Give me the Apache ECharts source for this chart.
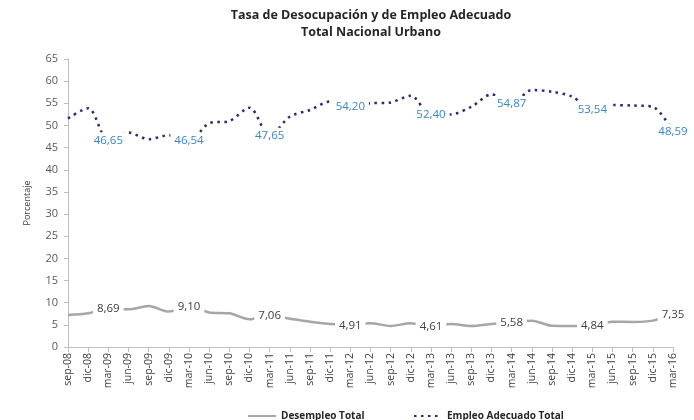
<!DOCTYPE html>
<html>
<head>
<meta charset="utf-8">
<script src="https://cdn.jsdelivr.net/npm/echarts@6/dist/echarts.min.js"></script>
<style>
  html, body { margin: 0; padding: 0; background: #fff; }
  #chart { width: 694px; height: 420px; }
</style>
</head>
<body>
<div id="chart"></div>
<script>
const categories = [
  'sep-08', 'dic-08', 'mar-09', 'jun-09', 'sep-09', 'dic-09', 'mar-10', 'jun-10',
  'sep-10', 'dic-10', 'mar-11', 'jun-11', 'sep-11', 'dic-11', 'mar-12', 'jun-12',
  'sep-12', 'dic-12', 'mar-13', 'jun-13', 'sep-13', 'dic-13', 'mar-14', 'jun-14',
  'sep-14', 'dic-14', 'mar-15', 'jun-15', 'sep-15', 'dic-15', 'mar-16'
]
const desempleo = [
  7.2, 7.6, 8.69, 8.5, 9.25, 8.0, 9.10, 7.8,
  7.6, 6.25, 7.06, 6.4, 5.7, 5.2, 4.91, 5.35,
  4.75, 5.35, 4.61, 5.2, 4.75, 5.2, 5.58, 5.95,
  4.8, 4.75, 4.84, 5.7, 5.65, 5.95, 7.35
]
const empleoAdecuado = [
  51.6, 53.9, 46.65, 48.4, 46.9, 47.8, 46.54, 50.5,
  51.0, 54.0, 47.65, 52.0, 53.5, 55.4, 54.20, 55.0,
  55.2, 56.7, 52.40, 52.5, 54.2, 57.0, 54.87, 58.0,
  57.6, 56.5, 53.54, 54.6, 54.5, 54.2, 48.59
]
const yTicks = { min: 0, max: 65, interval: 5 }

// only every 4th point (the march ones) carries a label
const showLabel = (i) => i % 4 === 2

const fmt = (v) => v.toFixed(2).replace('.', ',')

function withLabels(values, color) {
  return values.map((v, i) => ({
    value: v,
    label: {
      show: showLabel(i),
      position: 'inside',
      formatter: fmt(v),
      color: color,
      fontSize: 11.5,
      fontFamily: 'Open Sans',
      backgroundColor: '#fff',
      padding: [2, 4]
    }
  }))
}

const chart = echarts.init(document.getElementById('chart'))

const legendText = { fontSize: 10, fontWeight: 'bold', color: '#262626', fontFamily: 'Open Sans' }

const option = {
  animation: false,
  title: {
    text: 'Tasa de Desocupación y de Empleo Adecuado\nTotal Nacional Urbano',
    left: 366,
    textAlign: 'center',
    top: 2,
    textStyle: {
      fontSize: 12.5,
      fontWeight: 'bold',
      color: '#262626',
      fontFamily: 'Open Sans',
      lineHeight: 17
    }
  },
  legend: [
    {
      orient: 'horizontal',
      top: 406,
      left: 242,
      itemWidth: 28,
      itemHeight: 8,
      itemStyle: { opacity: 0 },
      textStyle: legendText,
      data: ['Desempleo Total']
    },
    {
      orient: 'horizontal',
      top: 406,
      left: 408,
      itemWidth: 28,
      itemHeight: 8,
      itemStyle: { opacity: 0 },
      textStyle: legendText,
      data: ['Empleo Adecuado Total']
    }
  ],
  grid: { left: 68, right: 21, top: 59, bottom: 73 },
  xAxis: {
    type: 'category',
    data: categories,
    boundaryGap: false,
    axisLine: { lineStyle: { color: '#bfbfbf' } },
    axisTick: { show: true, alignWithLabel: true, lineStyle: { color: '#bfbfbf' } },
    axisLabel: {
      rotate: 90,
      interval: 0,
      fontSize: 10.5,
      color: '#404040',
      fontFamily: 'Open Sans',
      margin: 6
    }
  },
  yAxis: {
    type: 'value',
    min: yTicks.min,
    max: yTicks.max,
    interval: yTicks.interval,
    name: 'Porcentaje',
    nameLocation: 'middle',
    nameGap: 36,
    nameTextStyle: { fontSize: 9, color: '#404040', fontFamily: 'Open Sans' },
    splitLine: { show: false },
    axisLine: { show: true, lineStyle: { color: '#bfbfbf' } },
    axisTick: { show: true, length: 4, lineStyle: { color: '#bfbfbf' } },
    axisLabel: { fontSize: 11, color: '#595959', fontFamily: 'Open Sans', margin: 10 }
  },
  series: [
    {
      name: 'Desempleo Total',
      type: 'line',
      smooth: 0.3,
      symbol: 'circle',
      symbolSize: 0,
      showSymbol: true,
      itemStyle: { color: '#a6a6a6' },
      lineStyle: { color: '#a6a6a6', width: 2.5 },
      data: withLabels(desempleo, '#404040')
    },
    {
      name: 'Empleo Adecuado Total',
      type: 'line',
      smooth: 0.3,
      symbol: 'circle',
      symbolSize: 0,
      showSymbol: true,
      itemStyle: { color: '#2b2a72' },
      lineStyle: { color: '#2b2a72', width: 2.5, type: [2.5, 4.5] },
      data: withLabels(empleoAdecuado, '#3a85c6')
    }
  ]
}

chart.setOption(option)
</script>
</body>
</html>
